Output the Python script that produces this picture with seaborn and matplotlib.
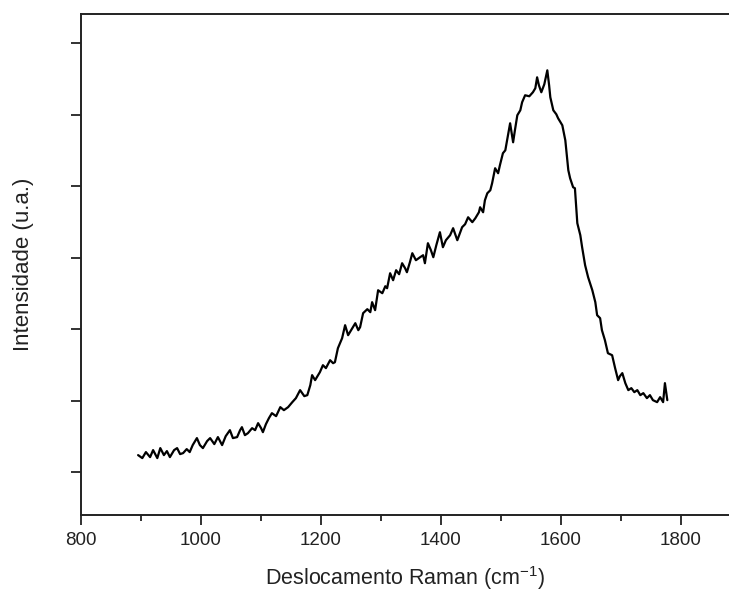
import matplotlib
matplotlib.use("Agg")
import matplotlib.pyplot as plt
import seaborn as sns
import pandas as pd
from matplotlib.ticker import MultipleLocator, NullFormatter

raman_shift = [896, 903, 909, 916, 921, 928, 933, 939, 944, 949, 956, 961, 966, 971, 977, 982, 987, 994, 999, 1004,
               1011, 1016, 1023, 1029, 1036, 1042, 1049, 1054, 1061, 1066, 1069, 1074, 1079, 1086, 1091, 1096, 1101, 1104, 1109, 1114,
               1119, 1126, 1133, 1139, 1146, 1153, 1159, 1166, 1173, 1178, 1183, 1186, 1191, 1194, 1199, 1204, 1209, 1216, 1221, 1224,
               1229, 1236, 1241, 1246, 1253, 1258, 1263, 1266, 1271, 1278, 1283, 1286, 1291, 1296, 1303, 1308, 1311, 1316, 1321, 1326,
               1331, 1336, 1341, 1344, 1349, 1353, 1359, 1366, 1371, 1374, 1379, 1384, 1388, 1393, 1399, 1404, 1409, 1416, 1421, 1428,
               1433, 1436, 1441, 1446, 1453, 1458, 1464, 1466, 1471, 1474, 1478, 1483, 1486, 1491, 1496, 1499, 1504, 1508, 1511, 1516,
               1521, 1524, 1528, 1533, 1536, 1541, 1548, 1554, 1558, 1561, 1564, 1568, 1573, 1578, 1581, 1583, 1588, 1593, 1596, 1603,
               1608, 1613, 1616, 1621, 1624, 1628, 1633, 1636, 1641, 1646, 1653, 1658, 1661, 1666, 1669, 1674, 1679, 1686, 1691, 1696,
               1699, 1703, 1708, 1713, 1718, 1723, 1728, 1733, 1738, 1744, 1749, 1754, 1761, 1766, 1771, 1774, 1778]

intensity = [238, 196, 280, 210, 308, 196, 336, 238, 294, 210, 308, 336, 252, 266, 322, 280, 378, 476, 378, 336,
             434, 476, 392, 490, 378, 503, 587, 476, 490, 587, 629, 517, 545, 615, 587, 685, 615, 559, 671, 755,
             825, 783, 909, 867, 909, 979, 1035, 1147, 1063, 1077, 1217, 1357, 1287, 1329, 1399, 1496, 1455, 1566, 1524, 1538,
             1734, 1874, 2056, 1916, 2014, 2084, 1986, 2028, 2224, 2280, 2238, 2378, 2266, 2545, 2503, 2601, 2573, 2783, 2685, 2825,
             2769, 2923, 2853, 2797, 2937, 3063, 2965, 3007, 3035, 2923, 3203, 3105, 3007, 3175, 3357, 3147, 3245, 3315, 3413, 3245,
             3357, 3427, 3469, 3566, 3497, 3552, 3636, 3706, 3636, 3804, 3902, 3944, 4042, 4252, 4182, 4294, 4462, 4503, 4643, 4881,
             4615, 4783, 4993, 5063, 5175, 5273, 5259, 5315, 5371, 5524, 5413, 5315, 5427, 5622, 5413, 5245, 5063, 5007, 4951, 4853,
             4643, 4224, 4112, 3986, 3972, 3483, 3315, 3147, 2895, 2727, 2545, 2378, 2196, 2154, 1986, 1846, 1664, 1636, 1455, 1287,
             1343, 1385, 1245, 1147, 1175, 1119, 1147, 1077, 1105, 1035, 1077, 1007, 979, 1049, 979, 1245, 1007]

x_ticks = [800, 1000, 1200, 1400, 1600, 1800]
y_ticks = [0, 1000, 2000, 3000, 4000, 5000, 6000]

df = pd.DataFrame({"shift": raman_shift, "intensity": intensity})

sns.set_style("ticks")
plt.rcParams["font.family"] = ["Liberation Sans", "DejaVu Sans"]
plt.rcParams["mathtext.fontset"] = "custom"
plt.rcParams["mathtext.rm"] = "Liberation Sans"
plt.rcParams["mathtext.it"] = "Liberation Sans:italic"

fig = plt.figure(figsize=(7.29, 5.96), dpi=100)
ax = fig.add_axes([80.5 / 729, 81 / 596, (729 - 80.5) / 729, 501 / 596])

sns.lineplot(data=df, x="shift", y="intensity", ax=ax, color="black", linewidth=1.6, sort=False)

ax.set_xlim(800, 1880.8)
ax.set_ylim(-600, 6410)
ax.set_xticks(x_ticks)
ax.set_xticklabels([str(v) for v in x_ticks])
ax.xaxis.set_minor_locator(MultipleLocator(100))
ax.set_yticks(y_ticks)
ax.yaxis.set_major_formatter(NullFormatter())

for s in ["left", "bottom", "top"]:
    ax.spines[s].set_linewidth(1.4)
    ax.spines[s].set_color("#222222")
ax.spines["right"].set_visible(False)

ax.tick_params(axis="both", which="major", direction="out", length=7, width=1.3, color="#222222",
               labelsize=13.5, labelcolor="#222222", pad=5)
ax.tick_params(axis="x", which="minor", direction="out", length=4.5, width=1.3, color="#222222")

ax.set_xlabel("Deslocamento Raman (cm$^{\\mathrm{-1}}$)", fontsize=15.5, labelpad=11, color="#222222")
ax.set_ylabel("Intensidade (u.a.)", fontsize=16, color="#222222")
ax.yaxis.set_label_coords(-0.072, 0.5)

fig.savefig("out.png", dpi=100)
